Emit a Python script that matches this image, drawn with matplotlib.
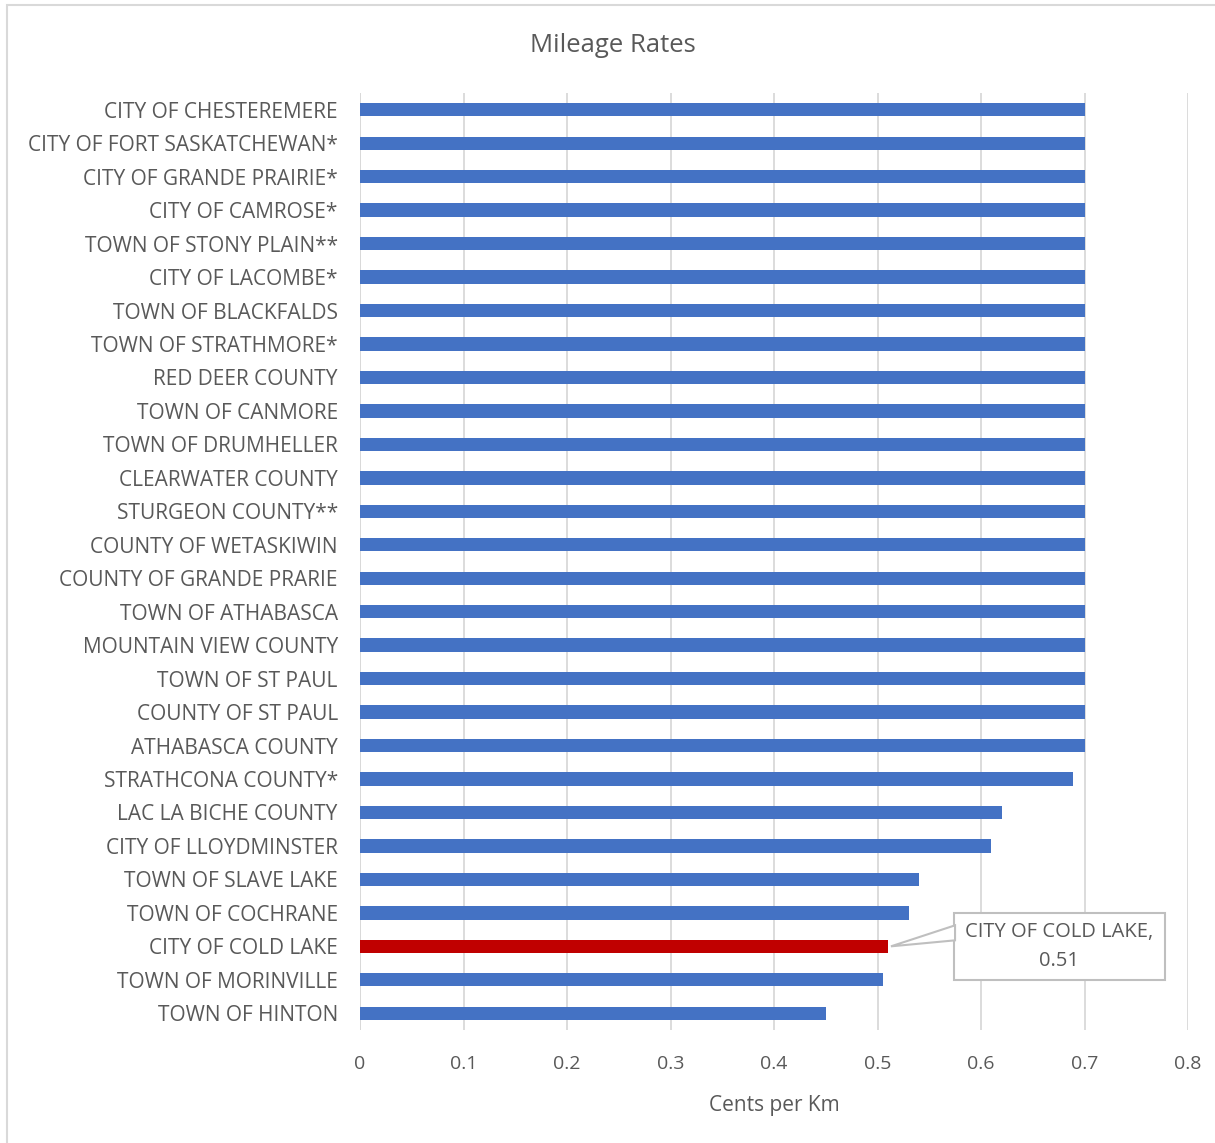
import matplotlib
matplotlib.use("Agg")
import matplotlib.pyplot as plt
from matplotlib.patches import Polygon, Rectangle

categories = [
    "CITY OF CHESTEREMERE", "CITY OF FORT SASKATCHEWAN*", "CITY OF GRANDE PRAIRIE*",
    "CITY OF CAMROSE*", "TOWN OF STONY PLAIN**", "CITY OF LACOMBE*", "TOWN OF BLACKFALDS",
    "TOWN OF STRATHMORE*", "RED DEER COUNTY", "TOWN OF CANMORE", "TOWN OF DRUMHELLER",
    "CLEARWATER COUNTY", "STURGEON COUNTY**", "COUNTY OF WETASKIWIN", "COUNTY OF GRANDE PRARIE",
    "TOWN OF ATHABASCA", "MOUNTAIN VIEW COUNTY", "TOWN OF ST PAUL", "COUNTY OF ST PAUL",
    "ATHABASCA COUNTY", "STRATHCONA COUNTY*", "LAC LA BICHE COUNTY", "CITY OF LLOYDMINSTER",
    "TOWN OF SLAVE LAKE", "TOWN OF COCHRANE", "CITY OF COLD LAKE", "TOWN OF MORINVILLE",
    "TOWN OF HINTON",
]
values = [0.70] * 20 + [0.689, 0.62, 0.61, 0.54, 0.53, 0.51, 0.505, 0.45]
highlight = "CITY OF COLD LAKE"
xticks = [0, 0.1, 0.2, 0.3, 0.4, 0.5, 0.6, 0.7, 0.8]
xtick_labels = ["0", "0.1", "0.2", "0.3", "0.4", "0.5", "0.6", "0.7", "0.8"]

plt.rcParams['font.family'] = ['Open Sans', 'DejaVu Sans']
txt = "#595959"

fig = plt.figure(figsize=(12.15, 11.43), dpi=100)
# outer chart border
fig.patches.append(Rectangle((7/1215, -0.01), 1.1, 1 - 5/1143 + 0.01, transform=fig.transFigure,
                             fill=False, edgecolor="#d9d9d9", linewidth=1.5))
ax = fig.add_axes([360/1215, 1 - 1030/1143, (1188 - 360)/1215, (1030 - 93)/1143])

n = len(categories)
ypos = list(range(n - 1, -1, -1))
colors = ["#c00000" if c == highlight else "#4472c4" for c in categories]
ax.barh(ypos, values, height=0.4, color=colors, zorder=3)

ax.set_xlim(0, 0.8)
ax.set_ylim(-0.5, n - 0.5)
ax.set_yticks(ypos)
ax.set_yticklabels(categories, fontsize=15, color=txt)
ax.set_xticks(xticks)
ax.set_xticklabels(xtick_labels, fontsize=14, color=txt)
ax.tick_params(axis="both", length=0)
ax.tick_params(axis="y", pad=16)
ax.tick_params(axis="x", pad=18)
ax.grid(axis="x", color="#d9d9d9", linewidth=1.3, zorder=0)
for s in ax.spines.values():
    s.set_visible(False)
ax.axvline(0, color="#d9d9d9", linewidth=1.3, zorder=1)
ax.set_xlabel("Cents per Km", fontsize=15, color=txt, labelpad=16)
fig.text(613/1215, 1 - 45/1143, "Mileage Rates", ha="center", va="center", fontsize=18.5, color=txt)

# data label callout
idx = categories.index(highlight)
yv = ypos[idx]
xv = values[idx]
box_x0, box_x1 = (954 - 360)/1035, (1165 - 360)/1035
box_y0, box_y1 = yv - (980 - 946)/33.46, yv + (946 - 913)/33.46
ax.add_patch(Rectangle((box_x0, box_y0), box_x1 - box_x0, box_y1 - box_y0,
                       facecolor="white", edgecolor="#bfbfbf", linewidth=1.5, zorder=5,
                       clip_on=False))
wedge = Polygon([(xv + 0.003, yv), (box_x0 + 0.001, yv + (946 - 925)/33.46),
                 (box_x0 + 0.001, yv + (946 - 940)/33.46)], closed=True,
                facecolor="white", edgecolor="#bfbfbf", linewidth=1.5, zorder=6, clip_on=False)
ax.add_patch(wedge)
ax.text((box_x0 + box_x1)/2, yv, f"{highlight},\n{xv:.2f}", ha="center", va="center",
        fontsize=14.5, color=txt, zorder=7, linespacing=1.6)

fig.savefig("out.png", dpi=100)
